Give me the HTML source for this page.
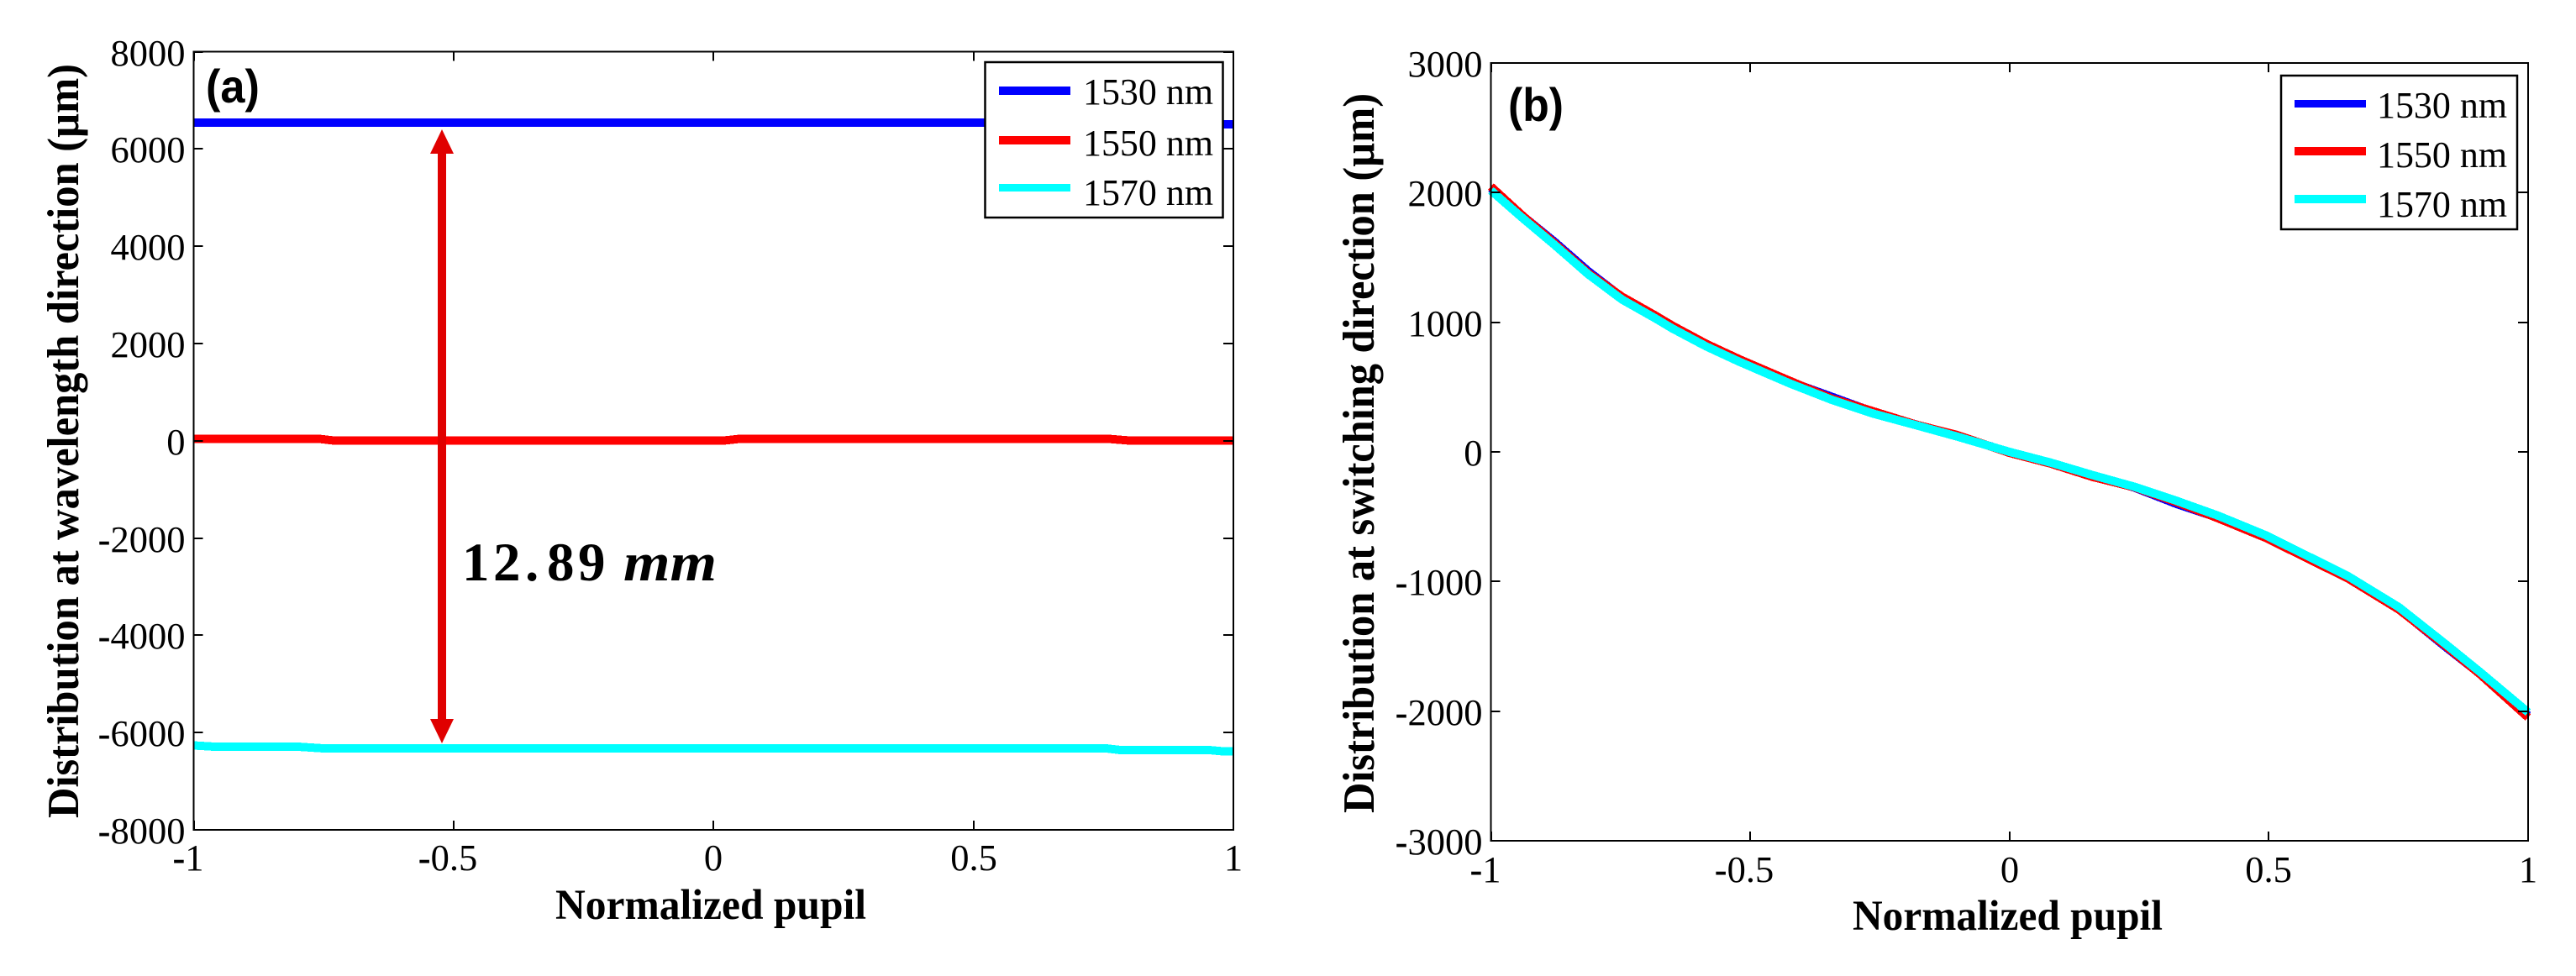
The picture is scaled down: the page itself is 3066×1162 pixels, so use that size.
<!DOCTYPE html>
<html>
<head>
<meta charset="utf-8">
<title>Distribution charts</title>
<style>
html,body{margin:0;padding:0;background:#fff;}
svg{display:block;}
text{font-family:"Liberation Serif",serif;fill:#000;}
.tick-label{font-size:44.5px;}
.axis-title{font-size:51px;font-weight:bold;}
.y-title{font-size:53px;}
.legend-label{font-size:44px;}
.panel-tag{font-family:"Liberation Sans",sans-serif;font-size:56px;font-weight:bold;}
</style>
</head>
<body>
<svg id="figure" xmlns="http://www.w3.org/2000/svg" width="3066" height="1162" viewBox="0 0 3066 1162">
  <rect x="0" y="0" width="3066" height="1162" fill="#fff"/>
  <g id="panel-a"></g>
  <g id="panel-b"></g>

  <g>
    <rect x="521" y="180" width="10" height="678" fill="#e00000"/>
    <polygon points="526,154 540,183 512,183" fill="#e00000"/>
    <polygon points="526,885 540,856 512,856" fill="#e00000"/>
    <text x="550 587 625 651 688" y="691" font-size="65" font-weight="bold">12.89</text>
    <text x="742" y="691" font-size="65" font-weight="bold" font-style="italic" textLength="111" lengthAdjust="spacingAndGlyphs">mm</text>
  </g>

  <text class="panel-tag" x="245" y="122" textLength="64" lengthAdjust="spacingAndGlyphs">(a)</text>
  <text class="panel-tag" x="1795" y="144" textLength="66" lengthAdjust="spacingAndGlyphs">(b)</text>

  <text class="axis-title" x="661" y="1094" textLength="370" lengthAdjust="spacingAndGlyphs">Normalized pupil</text>
  <text class="axis-title" x="2205" y="1107" textLength="369" lengthAdjust="spacingAndGlyphs">Normalized pupil</text>
  <text class="axis-title y-title" transform="translate(93,974) rotate(-90)" x="0" y="0" textLength="898" lengthAdjust="spacingAndGlyphs">Distribution at wavelength direction (µm)</text>
  <text class="axis-title y-title" transform="translate(1635,968) rotate(-90)" x="0" y="0" textLength="857" lengthAdjust="spacingAndGlyphs">Distribution at switching direction (µm)</text>

  <g>
    <rect x="1172.5" y="74" width="283" height="185" fill="#fff" stroke="#000" stroke-width="2.5"/>
    <rect x="1189" y="103" width="85" height="10" fill="#0000ff"/>
    <text class="legend-label" x="1289" y="124" textLength="155" lengthAdjust="spacingAndGlyphs">1530 nm</text>
    <rect x="1189" y="162" width="85" height="10" fill="#ff0000"/>
    <text class="legend-label" x="1289" y="185" textLength="155" lengthAdjust="spacingAndGlyphs">1550 nm</text>
    <rect x="1189" y="219" width="85" height="9" fill="#00ffff"/>
    <text class="legend-label" x="1289" y="244" textLength="155" lengthAdjust="spacingAndGlyphs">1570 nm</text>
  </g>

  <g>
    <rect x="2715" y="90" width="281" height="183" fill="#fff" stroke="#000" stroke-width="2.5"/>
    <rect x="2731" y="119" width="85" height="9" fill="#0000ff"/>
    <text class="legend-label" x="2829" y="140" textLength="155" lengthAdjust="spacingAndGlyphs">1530 nm</text>
    <rect x="2731" y="175" width="85" height="10" fill="#ff0000"/>
    <text class="legend-label" x="2829" y="199" textLength="155" lengthAdjust="spacingAndGlyphs">1550 nm</text>
    <rect x="2731" y="232" width="85" height="10" fill="#00ffff"/>
    <text class="legend-label" x="2829" y="258" textLength="155" lengthAdjust="spacingAndGlyphs">1570 nm</text>
  </g>
</svg>

<script>
// Shared x tick labels
const xTicks = [-1, -0.5, 0, 0.5, 1];

// Panel (a) data
const aYTicks = [-8000, -6000, -4000, -2000, 0, 2000, 4000, 6000, 8000];
const aBluePupil = [-1, 0.76, 0.8, 1];
const aBlueValues = [6538, 6538, 6503, 6503];
const aRedPupil = [-1, -0.76, -0.73, 0.02, 0.05, 0.76, 0.8, 1];
const aRedValues = [40, 40, 5, 5, 38, 38, 5, 5];
const aCyanPupil = [-1, -0.96, -0.8, -0.75, 0.755, 0.78, 0.95, 0.98, 1];
const aCyanValues = [-6265, -6291, -6291, -6325, -6325, -6356, -6356, -6386, -6386];

// Panel (b) data
const bYTicks = [-3000, -2000, -1000, 0, 1000, 2000, 3000];
const bPupil = [-1, -0.942, -0.877, -0.812, -0.747, -0.683, -0.65, -0.585, -0.521, -0.423, -0.343, -0.262, -0.181, -0.1, 0, 0.079, 0.16, 0.24, 0.321, 0.402, 0.495, 0.653, 0.751, 0.84, 0.908, 1];
const bBlueValues = [2032, 1832, 1620, 1393, 1193, 1044, 964, 824, 709, 541, 426, 308, 212, 125, -4, -88, -185, -274, -400, -508, -659, -973, -1213, -1502, -1716, -2034];
const bRedValues = [2047, 1834, 1608, 1379, 1197, 1052, 974, 834, 715, 547, 412, 312, 211, 129, -8, -90, -193, -272, -386, -512, -665, -977, -1217, -1494, -1718, -2049];
const bCyanValues = [2017, 1814, 1596, 1369, 1175, 1030, 952, 814, 695, 527, 402, 294, 207, 117, 0, -82, -179, -268, -376, -492, -645, -959, -1199, -1480, -1700, -2009];

const SVG_NS = 'http://www.w3.org/2000/svg';
const BLUE = '#0000ff';
const RED = '#ff0000';
const CYAN = '#00ffff';

function make(tag, parent) {
  const el = document.createElementNS(SVG_NS, tag);
  parent.appendChild(el);
  return el;
}

function linearScale(d0, d1, r0, r1) {
  return function (v) { return r0 + (v - d0) * (r1 - r0) / (d1 - d0); };
}

function drawSeries(g, xs, ys, xScale, yScale, color, name) {
  const line = make('polyline', g);
  
  
  const pts = xs.map(function (x, i) {
    return xScale(x).toFixed(1) + ',' + yScale(ys[i]).toFixed(1);
  });
  line.setAttribute('points', pts.join(' '));
  line.setAttribute('fill', 'none');
  line.setAttribute('stroke', color);
  line.setAttribute('stroke-width', '10');
  line.setAttribute('stroke-linejoin', 'round');
  line.setAttribute('shape-rendering', 'crispEdges');
}

function tickLine(g, x1, y1, x2, y2, name) {
  const t = make('line', g);
  
  
  t.setAttribute('x1', x1);
  t.setAttribute('y1', y1);
  t.setAttribute('x2', x2);
  t.setAttribute('y2', y2);
  t.setAttribute('stroke', '#000');
  t.setAttribute('stroke-width', '2');
  t.setAttribute('shape-rendering', 'crispEdges');
}

function fillTickText(label, v) {
  const s = String(v);
  if (s.charAt(0) === '-') {
    const minus = make('tspan', label);
    minus.setAttribute('font-weight', 'bold');
    minus.textContent = '-';
    const rest = make('tspan', label);
    rest.textContent = s.slice(1);
  } else {
    label.textContent = s;
  }
}

function drawAxes(g, box, yTicks, xScale, yScale, xBaseline, prefix) {
  const frame = make('rect', g);
  
  
  frame.setAttribute('x', box.left);
  frame.setAttribute('y', box.top);
  frame.setAttribute('width', box.right - box.left);
  frame.setAttribute('height', box.bottom - box.top);
  frame.setAttribute('fill', 'none');
  frame.setAttribute('stroke', '#000');
  frame.setAttribute('stroke-width', '2.4');
  frame.setAttribute('shape-rendering', 'crispEdges');

  xTicks.forEach(function (v) {
    const x = Math.round(xScale(v));
    tickLine(g, x, box.top, x, box.top + 11, prefix + '-x-tick-top');
    tickLine(g, x, box.bottom, x, box.bottom - 11, prefix + '-x-tick-bottom');
    const label = make('text', g);
    
    
    label.setAttribute('class', 'tick-label');
    label.setAttribute('text-anchor', 'middle');
    label.setAttribute('x', v < 0 ? x - 7 : x);
    label.setAttribute('y', xBaseline);
    fillTickText(label, v);
  });

  yTicks.forEach(function (v) {
    const y = Math.round(yScale(v));
    tickLine(g, box.left, y, box.left + 11, y, prefix + '-y-tick-left');
    tickLine(g, box.right, y, box.right - 12, y, prefix + '-y-tick-right');
    const label = make('text', g);
    
    
    label.setAttribute('class', 'tick-label');
    label.setAttribute('text-anchor', 'end');
    label.setAttribute('x', box.left - 10);
    label.setAttribute('y', y + 16);
    fillTickText(label, v);
  });
}

// Panel (a)
const boxA = { left: 230.5, right: 1468, top: 61.5, bottom: 988 };
const xA = linearScale(-1, 1, boxA.left, boxA.right);
const yA = linearScale(-8000, 8000, boxA.bottom, boxA.top);
const gA = document.getElementById('panel-a');
drawSeries(gA, aBluePupil, aBlueValues, xA, yA, BLUE, 'panel-a-series-1530');
drawSeries(gA, aRedPupil, aRedValues, xA, yA, RED, 'panel-a-series-1550');
drawSeries(gA, aCyanPupil, aCyanValues, xA, yA, CYAN, 'panel-a-series-1570');
drawAxes(gA, boxA, aYTicks, xA, yA, 1036, 'panel-a');

// Panel (b)
const boxB = { left: 1774.5, right: 3009, top: 75, bottom: 1001 };
const xB = linearScale(-1, 1, boxB.left, boxB.right);
const yB = linearScale(-3000, 3000, boxB.bottom, boxB.top);
const gB = document.getElementById('panel-b');
drawSeries(gB, bPupil, bBlueValues, xB, yB, BLUE, 'panel-b-series-1530');
drawSeries(gB, bPupil, bRedValues, xB, yB, RED, 'panel-b-series-1550');
drawSeries(gB, bPupil, bCyanValues, xB, yB, CYAN, 'panel-b-series-1570');
drawAxes(gB, boxB, bYTicks, xB, yB, 1050, 'panel-b');
</script>
</body>
</html>
